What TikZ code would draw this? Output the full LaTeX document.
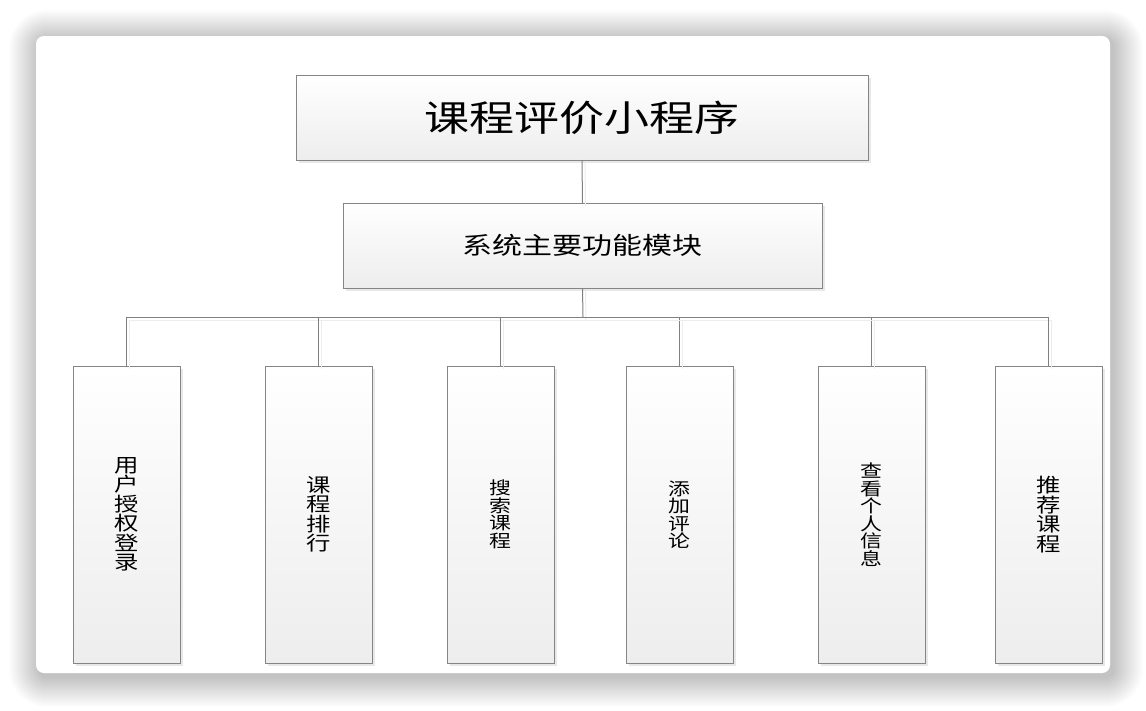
\documentclass[tikz,border=0pt]{standalone}
\usepackage{fontspec}
\newfontfamily\cjk[FakeStretch=1.25]{Noto Sans CJK SC}
\usetikzlibrary{shadows}

\tikzset{
  box/.style={draw=black!48, line width=1pt, top color=white, bottom color=black!7,
    inner sep=0pt, outer sep=0pt, text=black,
    drop shadow={shadow xshift=3pt, shadow yshift=-3pt, fill=black!9, opacity=1}},
  modbox/.style={box, minimum width=107pt, minimum height=297pt, align=center},
  link/.style={draw=black!50, line width=1pt,
    preaction={draw=black!7, line width=1pt, transform canvas={shift={(3pt,-3pt)}}}}
}

\begin{document}
\begin{tikzpicture}[x=1pt,y=-1pt]
\useasboundingbox (0,0) rectangle (1146,710);
\foreach \r in {1,...,30}
  \fill[black, opacity=0.007, rounded corners={8pt+\r pt}] ({36-\r+3},{36-\r+4}) rectangle ({1110+\r+3},{673+\r+4});
\fill[white, rounded corners=8pt] (36,36) rectangle (1110,673);

\node[box, minimum width=572pt, minimum height=85pt, font=\cjk\fontsize{36}{36}\selectfont] (title) at (582,117.5) {课程评价小程序};
\node[box, minimum width=479pt, minimum height=85pt, font=\cjk\fontsize{24}{24}\selectfont] (main) at (582.5,245.5) {系统主要功能模块};
\coordinate (bus) at (583,317);

\node[modbox, font=\cjk\fontsize{19.5}{19.5}\selectfont] (login) at (126.5,514.5) {用\\户\\授\\权\\登\\录};
\node[modbox, font=\cjk\fontsize{19.5}{19.5}\selectfont] (rank) at (318.5,514.5) {课\\程\\排\\行};
\node[modbox, font=\cjk\fontsize{17.5}{17.5}\selectfont] (search) at (500.5,514.5) {搜\\索\\课\\程};
\node[modbox, font=\cjk\fontsize{17.5}{17.5}\selectfont] (comment) at (679.5,514.5) {添\\加\\评\\论};
\node[modbox, font=\cjk\fontsize{17.5}{17.5}\selectfont] (info) at (871.5,514.5) {查\\看\\个\\人\\信\\息};
\node[modbox, font=\cjk\fontsize{19.5}{19.5}\selectfont] (recommend) at (1048.5,514.5) {推\\荐\\课\\程};

\draw[link] (title.south) -- (main.north);
\draw[link] (main.south) -- (bus);
\draw[link] (login.north) |- (bus);
\draw[link] (rank.north) |- (bus);
\draw[link] (search.north) |- (bus);
\draw[link] (comment.north) |- (bus);
\draw[link] (info.north) |- (bus);
\draw[link] (recommend.north) |- (bus);
\end{tikzpicture}
\end{document}
